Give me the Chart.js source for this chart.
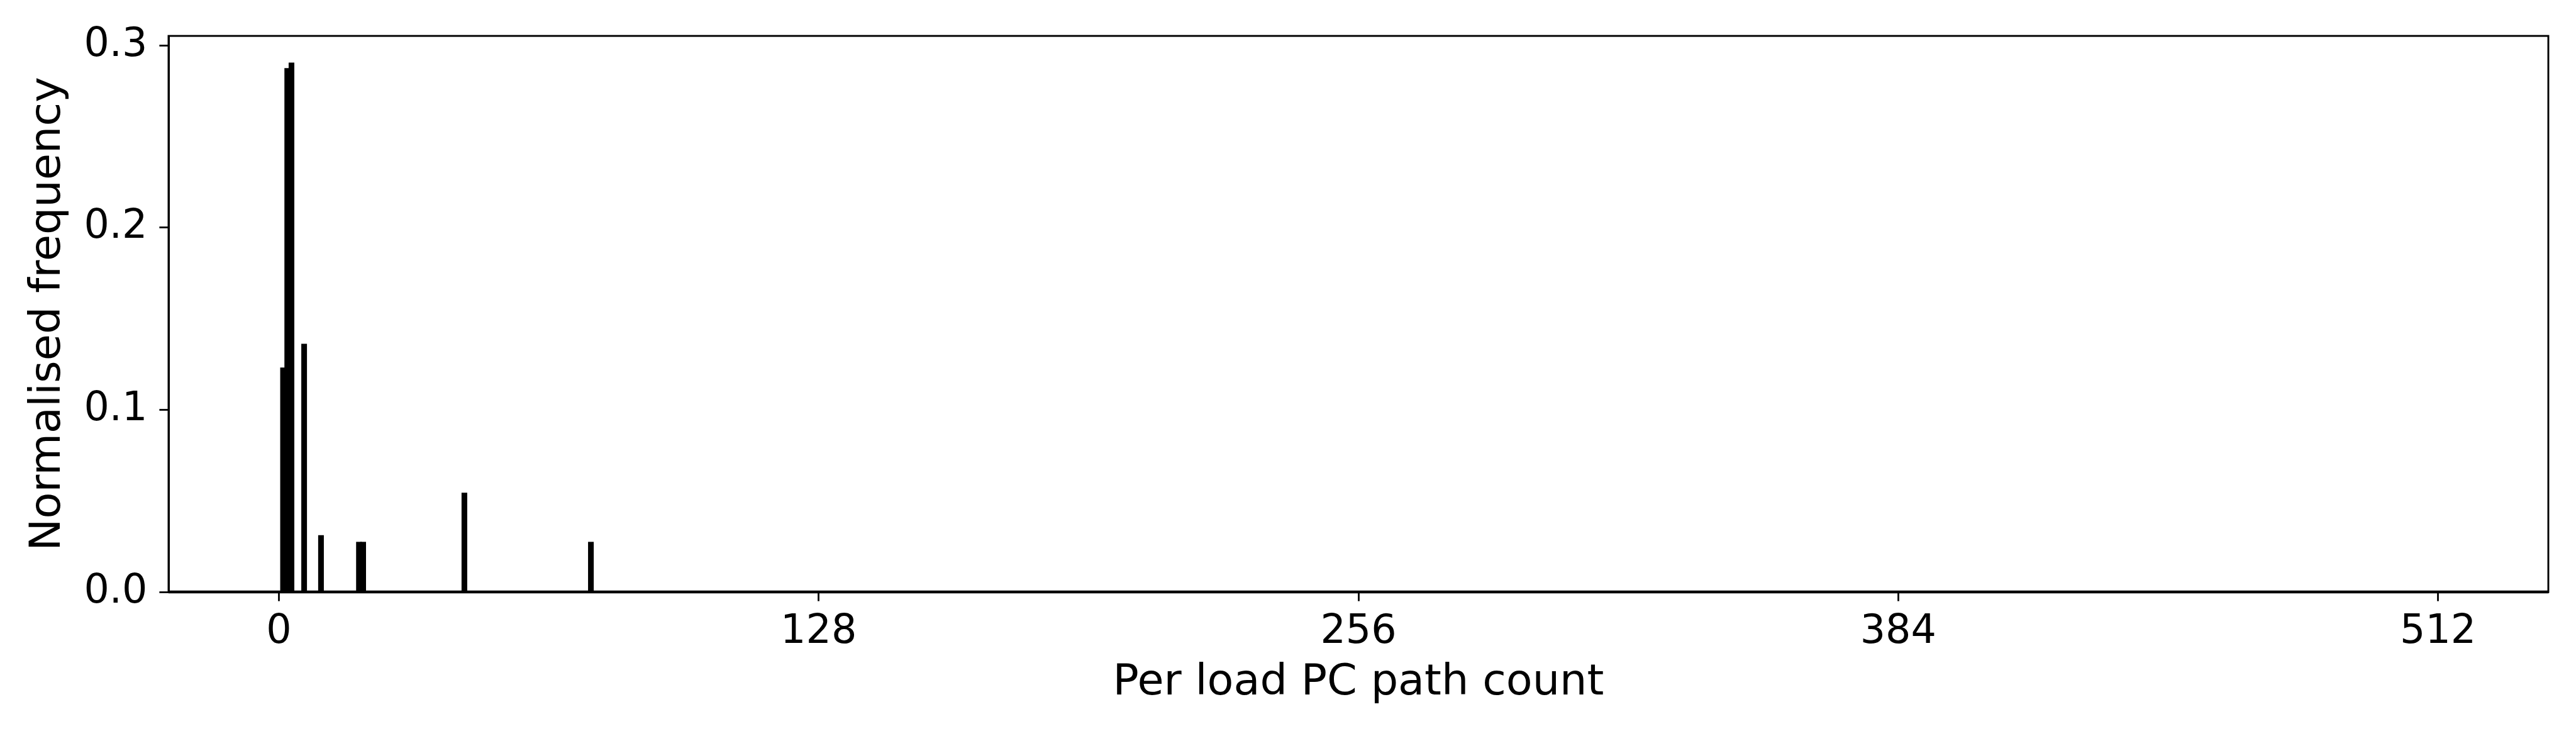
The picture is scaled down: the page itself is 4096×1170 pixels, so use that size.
<!DOCTYPE html>
<html>
<head>
<meta charset="utf-8">
<script src="https://cdn.jsdelivr.net/npm/chart.js@4.4.1/dist/chart.umd.min.js"></script>
<style>
  html, body { margin: 0; padding: 0; background: #fff; }
  #wrap { width: 4096px; height: 1170px; }
</style>
</head>
<body>
<div id="wrap"><canvas id="histChart" width="4096" height="1170"></canvas></div>
<script>
// --- Data (bins of width 1) ---
const pathCounts = [1, 2, 3, 6, 10, 19, 20, 27, 44, 74];
const frequencies = [0.1232, 0.2875, 0.2906, 0.1362, 0.0312, 0.0275, 0.0275, 0.0006, 0.0545, 0.0275];
const xTickValues = [0, 128, 256, 384, 512];
const yTickValues = [0.0, 0.1, 0.2, 0.3];

const S = 0.975; // reference -> window scale

Chart.defaults.font.family = "'DejaVu Sans', sans-serif";
Chart.defaults.color = '#000';

// matplotlib style frame (all four spines, drawn over the bars)
const framePlugin = {
    id: 'frame',
    afterDatasetsDraw(chart) {
        const { ctx, chartArea: a } = chart;
        ctx.save();
        ctx.strokeStyle = '#000';
        ctx.lineWidth = 3 * S;
        ctx.strokeRect(a.left, a.top, a.right - a.left, a.bottom - a.top);
        // bar edges along zero make the baseline look heavier
        ctx.lineWidth = 4.5 * S;
        ctx.beginPath();
        ctx.moveTo(a.left, a.bottom);
        ctx.lineTo(a.right, a.bottom);
        ctx.stroke();
        ctx.restore();
    }
};

const points = pathCounts.map((c, i) => ({ x: c, y: frequencies[i] }));

new Chart(document.getElementById('histChart'), {
    type: 'bar',
    data: {
        datasets: [{
            data: points,
            backgroundColor: '#000',
            borderWidth: 0,
            categoryPercentage: 1,
            barPercentage: 1.35
        }]
    },
    options: {
        responsive: false,
        animation: false,
        devicePixelRatio: 1,
        layout: { padding: { top: 56, right: 44, left: 0, bottom: 0 } },
        plugins: { legend: { display: false }, tooltip: { enabled: false } },
        scales: {
            x: {
                type: 'linear',
                offset: false,
                min: -26.15,
                max: 538.15,
                afterBuildTicks: axis => { axis.ticks = xTickValues.map(v => ({ value: v })); },
                afterFit: axis => { axis.height = 229; },
                grid: { offset: false, drawOnChartArea: false, drawTicks: true, tickLength: 14.6, tickWidth: 2.8, tickColor: '#000' },
                border: { display: true, color: '#000', width: 3 },
                ticks: { font: { size: 63.5 }, padding: 12, maxRotation: 0, autoSkip: false, callback: v => String(v) },
                title: { display: true, text: 'Per load PC path count', font: { size: 68.5 }, padding: { top: 0, bottom: 43 } }
            },
            y: {
                min: 0,
                max: 0.3052,
                afterBuildTicks: axis => { axis.ticks = yTickValues.map(v => ({ value: v })); },
                afterFit: axis => { axis.width = 268; },
                grid: { drawOnChartArea: false, drawTicks: true, tickLength: 14.6, tickWidth: 2.8, tickColor: '#000' },
                border: { display: true, color: '#000', width: 3 },
                ticks: { font: { size: 63.5 }, padding: 19, callback: v => v.toFixed(1) },
                title: { display: true, text: 'Normalised frequency', font: { size: 68.5 }, padding: { top: 36, bottom: 0 } }
            }
        }
    },
    plugins: [framePlugin]
});
</script>
</body>
</html>
